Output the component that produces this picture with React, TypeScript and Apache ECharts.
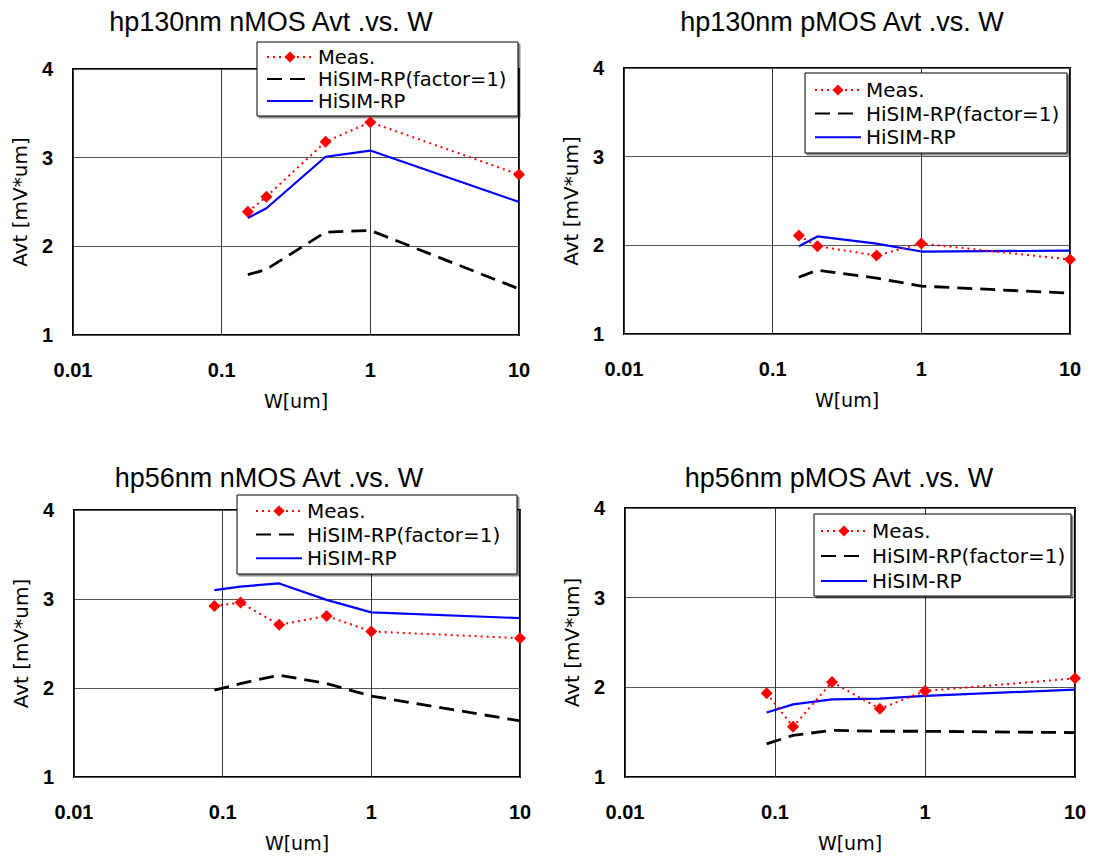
import React, { useEffect, useRef } from "react";
import * as echarts from "echarts";

// ---- data ----
const titles = [
  "hp130nm nMOS Avt .vs. W",
  "hp130nm pMOS Avt .vs. W",
  "hp56nm nMOS Avt .vs. W",
  "hp56nm pMOS Avt .vs. W",
];
const seriesNames = ["Meas.", "HiSIM-RP(factor=1)", "HiSIM-RP"];
const xTicks = [0.01, 0.1, 1, 10];
const yTicks = [1, 2, 3, 4];

const W130 = [0.15, 0.2, 0.5, 1, 10];
const W56 = [0.088, 0.132, 0.24, 0.5, 1, 10];

const n130Meas = [2.39, 2.56, 3.18, 3.4, 2.81];
const n130Fac1 = [1.68, 1.74, 2.16, 2.18, 1.52];
const n130RP = [2.32, 2.43, 3.01, 3.08, 2.5];

const p130Meas = [2.11, 1.99, 1.885, 2.02, 1.84];
const p130Fac1 = [1.64, 1.72, 1.63, 1.54, 1.46];
const p130RP = [1.99, 2.1, 2.02, 1.93, 1.94];

const n56Meas = [2.92, 2.96, 2.71, 2.81, 2.635, 2.56];
const n56Fac1 = [1.975, 2.05, 2.145, 2.05, 1.91, 1.63];
const n56RP = [3.1, 3.14, 3.175, 2.99, 2.85, 2.785];

const p56Meas = [1.935, 1.56, 2.06, 1.76, 1.96, 2.1];
const p56Fac1 = [1.37, 1.465, 1.52, 1.51, 1.51, 1.495];
const p56RP = [1.72, 1.81, 1.865, 1.875, 1.905, 1.975];

const panels = [
  { w: W130, meas: n130Meas, fac1: n130Fac1, rp: n130RP },
  { w: W130, meas: p130Meas, fac1: p130Fac1, rp: p130RP },
  { w: W56, meas: n56Meas, fac1: n56Fac1, rp: n56RP },
  { w: W56, meas: p56Meas, fac1: p56Fac1, rp: p56RP },
];

// ---- layout ----
const grids = [
  { left: 73, top: 69, width: 446, height: 266 },
  { left: 624, top: 68, width: 446, height: 266 },
  { left: 74, top: 510, width: 446, height: 267 },
  { left: 625, top: 508, width: 450, height: 269 },
];
const titlePos = [
  [271, 22],
  [842, 22],
  [269, 478],
  [839, 478],
];
const legendBoxes = [
  { x: 257, y: 42, w: 261, h: 74, left: 266, top: 47, lh: 20, gap: 2, fs: 19.5 },
  { x: 805, y: 73, w: 262, h: 80, left: 814, top: 79, lh: 22, gap: 1.6, fs: 20 },
  { x: 237, y: 495, w: 280, h: 79, left: 255, top: 500, lh: 22, gap: 1.6, fs: 20 },
  { x: 814, y: 514, w: 257, h: 82, left: 820, top: 520, lh: 22, gap: 3, fs: 20 },
];

const fmtX = (v: number) =>
  v >= 1 ? String(Math.round(v)) : String(Number(v.toPrecision(1)));

export default function App() {
  const ref = useRef<HTMLDivElement>(null);
  useEffect(() => {
    if (!ref.current) return;
    const chart = echarts.init(ref.current, undefined, { renderer: "svg" });

    const series: any[] = [];
    panels.forEach((p, i) => {
      series.push({
        name: seriesNames[0],
        type: "line",
        xAxisIndex: i,
        yAxisIndex: i,
        data: p.w.map((w, k) => [w, p.meas[k]]),
        symbol: "diamond",
        symbolSize: 12,
        itemStyle: { color: "#ff0000" },
        lineStyle: { color: "#ff0000", width: 2, type: [2, 4] },
        z: 3,
      });
      series.push({
        name: seriesNames[1],
        type: "line",
        xAxisIndex: i,
        yAxisIndex: i,
        data: p.w.map((w, k) => [w, p.fac1[k]]),
        symbol: "none",
        itemStyle: { color: "#000000" },
        lineStyle: { color: "#000000", width: 2.8, type: [15, 8] },
        z: 2,
      });
      series.push({
        name: seriesNames[2],
        type: "line",
        xAxisIndex: i,
        yAxisIndex: i,
        data: p.w.map((w, k) => [w, p.rp[k]]),
        symbol: "none",
        itemStyle: { color: "#0000ff" },
        lineStyle: { color: "#0000ff", width: 2.2 },
        z: 2,
      });
    });

    const graphic: any[] = [];
    titles.forEach((t, i) => {
      graphic.push({
        type: "text",
        x: titlePos[i][0],
        y: titlePos[i][1],
        z: 10,
        style: {
          text: t,
          fill: "#000",
          font: "27px 'Liberation Sans', Arial, sans-serif",
          textAlign: "center",
          textVerticalAlign: "middle",
        },
      });
    });
    legendBoxes.forEach((b) => {
      graphic.push({
        type: "rect",
        z: 3,
        shape: { x: b.x, y: b.y, width: b.w, height: b.h },
        style: {
          fill: "#fff",
          stroke: "#000",
          lineWidth: 1,
          shadowColor: "rgba(0,0,0,0.45)",
          shadowOffsetX: 2,
          shadowOffsetY: 2,
          shadowBlur: 0,
        },
      });
    });

    const option: any = {
      animation: false,
      backgroundColor: "#fff",
      grid: grids.map((g) => ({
        ...g,
        show: true,
        borderColor: "#000",
        borderWidth: 2,
        backgroundColor: "transparent",
        containLabel: false,
      })),
      xAxis: grids.map((_, i) => ({
        type: "log",
        logBase: 10,
        gridIndex: i,
        min: xTicks[0],
        max: xTicks[xTicks.length - 1],
        name: "W[um]",
        nameLocation: "middle",
        nameGap: 56,
        nameTextStyle: {
          fontFamily: "'DejaVu Sans', sans-serif",
          fontSize: 19,
          color: "#000",
        },
        axisLine: { show: false },
        axisTick: { show: false },
        axisLabel: {
          margin: 25,
          formatter: fmtX,
          fontFamily: "'Liberation Sans', Arial, sans-serif",
          fontWeight: "bold",
          fontSize: 20,
          color: "#000",
        },
        splitLine: { show: true, lineStyle: { color: "#333", width: 1 } },
      })),
      yAxis: grids.map((_, i) => ({
        type: "value",
        gridIndex: i,
        min: yTicks[0],
        max: yTicks[yTicks.length - 1],
        interval: 1,
        name: "Avt [mV*um]",
        nameLocation: "middle",
        nameGap: 43,
        nameRotate: 90,
        nameTextStyle: {
          fontFamily: "'DejaVu Sans', sans-serif",
          fontSize: 20,
          color: "#000",
        },
        axisLine: { show: false },
        axisTick: { show: false },
        axisLabel: {
          margin: 20,
          fontFamily: "'Liberation Sans', Arial, sans-serif",
          fontWeight: "bold",
          fontSize: 20,
          color: "#000",
        },
        splitLine: { show: true, lineStyle: { color: "#555", width: 1 } },
      })),
      legend: legendBoxes.map((b) => ({
        orient: "vertical",
        left: b.left,
        top: b.top,
        padding: 0,
        itemGap: b.gap,
        itemWidth: 46,
        itemHeight: 14,
        selectedMode: false,
        z: 5,
        data: [
          { name: seriesNames[0] },
          { name: seriesNames[1], itemStyle: { opacity: 0 } },
          { name: seriesNames[2], itemStyle: { opacity: 0 } },
        ],
        textStyle: {
          fontFamily: "'DejaVu Sans', sans-serif",
          fontSize: b.fs,
          lineHeight: b.lh,
          color: "#000",
        },
      })),
      graphic,
      series,
    };
    chart.setOption(option);
    return () => chart.dispose();
  }, []);
  return (
    <div
      ref={ref}
      style={{ position: "absolute", left: 0, top: 0, width: 1093, height: 860 }}
    />
  );
}
